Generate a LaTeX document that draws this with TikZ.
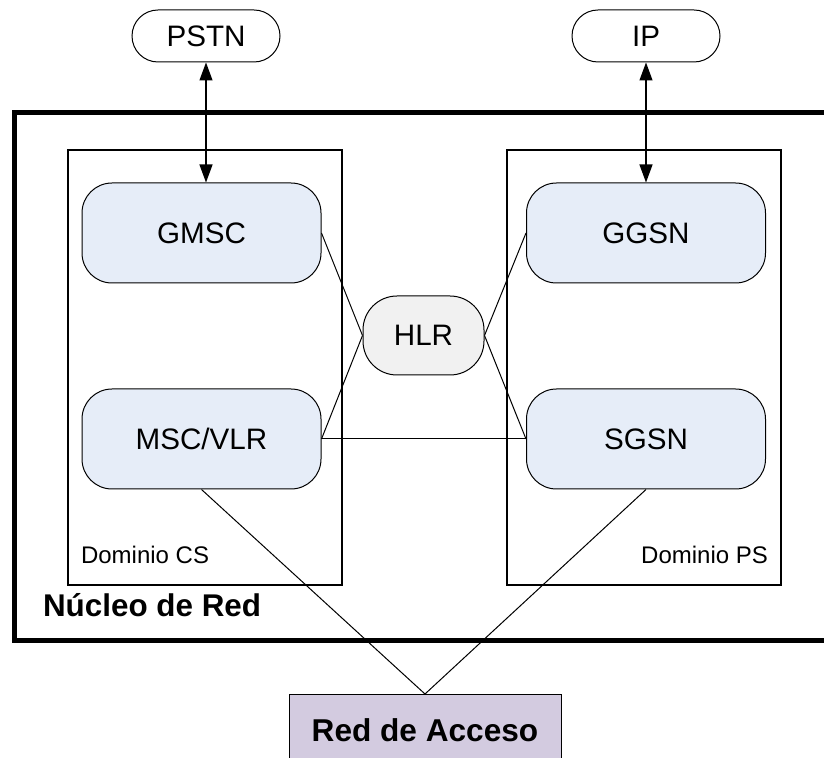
\documentclass[tikz,border=0pt]{standalone}
\usepackage{fontspec}
\setmainfont{Liberation Sans}
\usetikzlibrary{arrows.meta}

\definecolor{boxblue}{HTML}{E6EDF8}
\definecolor{hlrgray}{HTML}{F1F1F1}
\definecolor{accesspurple}{HTML}{D3CBE0}

\begin{document}
\begin{tikzpicture}[x=0.5pt, y=-0.5pt,
        netbox/.style={draw, line width=0.5pt, rounded corners=13pt, minimum width=74pt, minimum height=26pt, inner sep=0pt, font=\fontsize{14.8}{16}\selectfont},
        nodebox/.style={draw, line width=0.5pt, fill=boxblue, rounded corners=15pt, minimum width=119.5pt, minimum height=50pt, inner sep=0pt, font=\fontsize{14.8}{16}\selectfont},
        domainbox/.style={draw, line width=1pt, minimum width=137pt, minimum height=217.5pt, inner sep=0pt},
        link/.style={line width=0.5pt},
        access/.style={{Triangle[length=9pt, width=6.5pt]}-{Triangle[length=9pt, width=6.5pt]}, line width=0.6pt}]
    \useasboundingbox (0,0) rectangle (824,758);

    % core network and domains
    \node[draw, line width=2.5pt, minimum width=413pt, minimum height=263.5pt, inner sep=0pt] (core) at (427,376.5) {};
    \node[domainbox] (csdom) at (205,367.5) {};
    \node[domainbox] (psdom) at (643.5,367.5) {};
    \node[anchor=west, font=\fontsize{12}{14}\selectfont] (cslabel) at (74,555) {Dominio CS};
    \node[anchor=east, font=\fontsize{12}{14}\selectfont] (pslabel) at (775,555) {Dominio PS};
    \node[anchor=west, font=\bfseries\fontsize{15.7}{18}\selectfont] (corelabel) at (36,605) {Núcleo de Red};

    % external networks
    \node[netbox] (pstn) at (206,36) {PSTN};
    \node[netbox] (ip) at (646,36) {IP};

    % core elements
    \node[nodebox] (gmsc) at (201.5,233) {GMSC};
    \node[nodebox] (msc) at (201.5,439) {MSC/VLR};
    \node[nodebox] (ggsn) at (646,233) {GGSN};
    \node[nodebox] (sgsn) at (646,439) {SGSN};
    \node[draw, line width=0.5pt, fill=hlrgray, rounded corners=17pt, minimum width=60.5pt, minimum height=39.5pt, inner sep=0pt, font=\fontsize{14.8}{16}\selectfont] (hlr) at (423.5,335.5) {HLR};

    % access network
    \node[draw, line width=0.5pt, fill=accesspurple, minimum width=136pt, minimum height=37.5pt, inner sep=0pt, text depth=0pt, font=\bfseries\fontsize{15.8}{18}\selectfont] (ran) at (425,732) {\raisebox{2pt}{Red de Acceso}};

    % links
    \draw[access] (pstn.south) -- (pstn.south |- gmsc.north);
    \draw[access] (ip.south) -- (ip.south |- ggsn.north);
    \draw[link] (gmsc.east) -- (hlr.west);
    \draw[link] (msc.east) -- (hlr.west);
    \draw[link] (ggsn.west) -- (hlr.east);
    \draw[link] (sgsn.west) -- (hlr.east);
    \draw[link] (msc.east) -- (sgsn.west);
    \draw[link] (msc.south) -- (ran.north);
    \draw[link] (sgsn.south) -- (ran.north);
\end{tikzpicture}
\end{document}
